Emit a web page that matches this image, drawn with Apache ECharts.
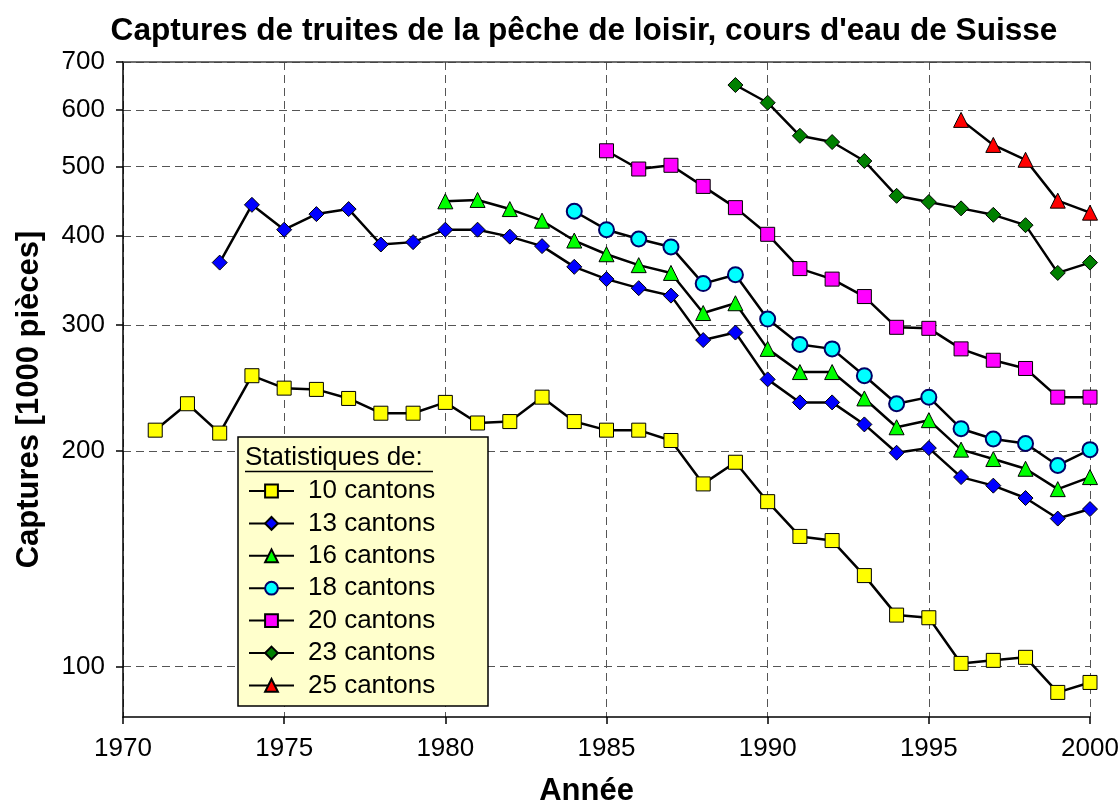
<!DOCTYPE html>
<html>
<head>
<meta charset="utf-8">
<title>Captures de truites</title>
<script src="https://cdn.jsdelivr.net/npm/echarts@6/dist/echarts.min.js"></script>
<style>
  html, body { margin: 0; padding: 0; background: #fff; }
  #main { width: 1120px; height: 803px; }
</style>
</head>
<body>
<div id="main"></div>
<script>
const FONT = "'Liberation Sans', Arial, sans-serif"

// années (axe x)
const years = [1971, 1972, 1973, 1974, 1975, 1976, 1977, 1978, 1979, 1980,
               1981, 1982, 1983, 1984, 1985, 1986, 1987, 1988, 1989, 1990,
               1991, 1992, 1993, 1994, 1995, 1996, 1997, 1998, 1999, 2000]
const yTicks = [100, 200, 300, 400, 500, 600, 700]

// captures en 1000 pièces
const c10 = [214, 233, 212, 255, 245, 244, 237, 226, 226, 234,
             219, 220, 238, 220, 214, 214, 207, 180, 193, 170,
             152, 150, 134, 118, 117, 101, 102, 103, 92, 95]
const c13 = [null, null, 367, 442, 408, 429, 436, 389, 392, 408,
             408, 399, 387, 362, 348, 338, 330, 286, 293, 252,
             234, 234, 218, 199, 202, 184, 179, 172, 161, 166]
const c16 = [null, null, null, null, null, null, null, null, null, 447,
             449, 436, 420, 394, 377, 364, 355, 312, 322, 278,
             258, 258, 237, 216, 221, 201, 195, 189, 177, 184]
const c18 = [null, null, null, null, null, null, null, null, null, null,
             null, null, null, 433, 408, 396, 386, 343, 353, 306,
             282, 278, 255, 233, 238, 215, 208, 205, 191, 201]
const c20 = [null, null, null, null, null, null, null, null, null, null,
             null, null, null, null, 526, 496, 502, 469, 438, 402,
             360, 348, 329, 298, 297, 278, 268, 261, 238, 238]
const c23 = [null, null, null, null, null, null, null, null, null, null,
             null, null, null, null, null, null, null, null, 650, 614,
             552, 541, 509, 455, 446, 437, 428, 414, 355, 367]
const c25 = [null, null, null, null, null, null, null, null, null, null,
             null, null, null, null, null, null, null, null, null, null,
             null, null, null, null, null, 581, 536, 511, 448, 431]

const series = [
    { name: '10 cantons', values: c10, symbol: 'rect', color: '#ffff00', size: 14 },
    { name: '13 cantons', values: c13, symbol: 'diamond', color: '#0000ff', size: 15 },
    { name: '16 cantons', values: c16, symbol: 'triangle', color: '#00ff00', size: 15 },
    { name: '18 cantons', values: c18, symbol: 'circle', color: '#00ffff', size: 15, border: '#000066', bw: 2 },
    { name: '20 cantons', values: c20, symbol: 'rect', color: '#ff00ff', size: 14 },
    { name: '23 cantons', values: c23, symbol: 'diamond', color: '#008000', size: 15 },
    { name: '25 cantons', values: c25, symbol: 'triangle', color: '#ff0000', size: 15 }
]

function pairs(values) {
    const out = []
    values.forEach((v, i) => { if (v != null) out.push([years[i], v]) })
    return out
}

const chart = echarts.init(document.getElementById('main'))

chart.setOption({
    animation: false,
    backgroundColor: '#fff',
    textStyle: { fontFamily: FONT },
    title: {
        text: "Captures de truites de la pêche de loisir, cours d'eau de Suisse",
        left: 579,
        textAlign: 'center',
        top: 10,
        textStyle: { fontFamily: FONT, fontSize: 31.6, fontWeight: 'bold', color: '#000' }
    },
    grid: { left: 123, right: 30, top: 62, bottom: 86, outerBoundsMode: 'none', containLabel: false },
    xAxis: [{
        type: 'value',
        min: 1970,
        max: 2000,
        interval: 5,
        name: 'Année',
        nameLocation: 'middle',
        nameGap: 59,
        nameTextStyle: { fontFamily: FONT, fontSize: 31, fontWeight: 'bold', color: '#000', padding: [0, 40, 0, 0] },
        axisLine: { lineStyle: { color: '#000', width: 1.5 } },
        axisTick: { inside: false, length: 7, lineStyle: { color: '#000', width: 1.5 } },
        axisLabel: { margin: 19, fontFamily: FONT, fontSize: 26, color: '#000', formatter: v => String(v) },
        splitLine: { show: true, lineStyle: { color: '#555', width: 1, type: [8, 5] } }
    }, {
        type: 'value',
        position: 'top',
        min: 1970,
        max: 2000,
        axisLine: { show: true, lineStyle: { color: '#404040', width: 1.5 } },
        axisTick: { show: false },
        axisLabel: { show: false },
        splitLine: { show: false }
    }],
    yAxis: {
        type: 'log',
        logBase: 10,
        min: 85,
        max: 700,
        name: 'Captures [1000 pièces]',
        nameLocation: 'middle',
        nameRotate: 90,
        nameGap: 78,
        nameTextStyle: { fontFamily: FONT, fontSize: 31, fontWeight: 'bold', color: '#000', padding: [0, 20, 0, 0] },
        axisLine: { show: true, lineStyle: { color: '#000', width: 1.5 } },
        axisTick: { show: true, inside: false, length: 7, customValues: yTicks, lineStyle: { color: '#000', width: 1.5 } },
        axisLabel: { margin: 18, customValues: yTicks, fontFamily: FONT, fontSize: 26, color: '#000' },
        splitLine: { show: true, lineStyle: { color: '#555', width: 1, type: [8, 5] } },
        minorTick: { show: false },
        minorSplitLine: { show: false }
    },
    legend: {
        orient: 'vertical',
        left: 248,
        top: 478,
        padding: 0,
        itemWidth: 45,
        itemHeight: 16,
        itemGap: 6.4,
        z: 20,
        selectedMode: false,
        data: series.map(s => s.name),
        textStyle: { fontFamily: FONT, fontSize: 26, lineHeight: 26, color: '#000', padding: [0, 0, 0, 9] }
    },
    graphic: [
        { type: 'rect', z: 10, shape: { x: 238, y: 437, width: 250, height: 269 },
          style: { fill: '#ffffcc', stroke: '#000', lineWidth: 1.5 } },
        { type: 'text', z: 11, x: 245, y: 458,
          style: { text: 'Statistiques de:', font: '26px ' + FONT, fill: '#000', verticalAlign: 'middle', textVerticalAlign: 'middle' } },
        { type: 'line', z: 11, shape: { x1: 245, y1: 471.5, x2: 433, y2: 471.5 },
          style: { stroke: '#000', lineWidth: 1.5 } }
    ],
    series: series.map(s => ({
        name: s.name,
        type: 'line',
        data: pairs(s.values),
        symbol: s.symbol,
        symbolSize: s.size,
        showAllSymbol: true,
        lineStyle: { color: '#000', width: 2.5 },
        itemStyle: { color: s.color, borderColor: s.border || '#000', borderWidth: s.bw || 1 },
        emphasis: { disabled: true }
    }))
})
</script>
</body>
</html>
